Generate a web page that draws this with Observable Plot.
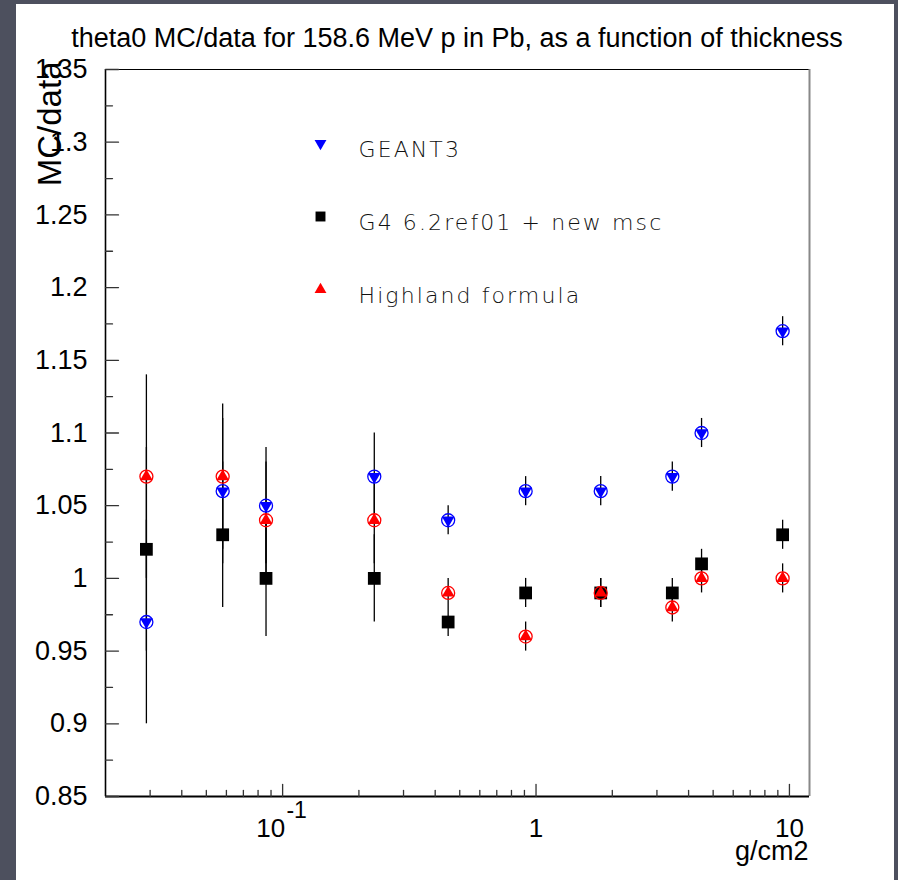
<!DOCTYPE html>
<html><head><meta charset="utf-8">
<script src="https://cdn.jsdelivr.net/npm/d3@7"></script>
<script src="https://cdn.jsdelivr.net/npm/@observablehq/plot@0.6"></script>
<style>
body{margin:0;background:#4d505e;width:898px;height:880px;overflow:hidden;position:relative;}
#panel{position:absolute;left:16px;top:4px;width:878px;height:876px;background:#fff;}
#title{position:absolute;left:0;top:19px;width:882px;text-align:center;font-family:"Liberation Sans",Arial,sans-serif;font-size:27px;line-height:30px;color:#000;}
#chart{position:absolute;left:0;top:56px;}
#chart g[font-family="DejaVu Sans"] text{letter-spacing:2.1px;}
</style></head><body>
<div id="panel"><div id="title">theta0 MC/data for 158.6 MeV p in Pb, as a function of thickness</div><div id="chart"></div></div>
<script>
const thickness = [0.029, 0.058, 0.086, 0.23, 0.45, 0.91, 1.8, 3.45, 4.5, 9.4];
const geant3   = [0.97, 1.06, 1.05, 1.07, 1.04, 1.06, 1.06, 1.07, 1.10, 1.17];
const g4       = [1.02, 1.03, 1.00, 1.00, 0.97, 0.99, 0.99, 0.99, 1.01, 1.03];
const highland = [1.07, 1.07, 1.04, 1.04, 0.99, 0.96, 0.99, 0.98, 1.00, 1.00];
const errors   = [0.07, 0.05, 0.04, 0.03, 0.01, 0.01, 0.01, 0.01, 0.01, 0.01];
const seriesNames = ["GEANT3", "G4 6.2ref01 + new msc", "Highland formula"];
const seriesColors = ["#0000ff", "#000000", "#ff0000"];
const yMajorTicks = [0.85, 0.9, 0.95, 1.0, 1.05, 1.1, 1.15, 1.2, 1.25, 1.3, 1.35];
const yMinorTicks = [0.875, 0.925, 0.975, 1.025, 1.075, 1.125, 1.175, 1.225, 1.275, 1.325];
const xMajorTicks = [0.1, 1, 10];
const xMinorTicks = [0.03, 0.04, 0.05, 0.06, 0.07, 0.08, 0.09, 0.2, 0.3, 0.4, 0.5, 0.6, 0.7, 0.8, 0.9, 2, 3, 4, 5, 6, 7, 8, 9];
const xDomain = [0.02, 12];
const yDomain = [0.85, 1.35];

const rows = (vals) => thickness.map((t, i) => ({x: t, y: vals[i], e: errors[i]}));
const dG3 = rows(geant3), dG4 = rows(g4), dHL = rows(highland);

const tickShape = {draw(context, l) { context.moveTo(0, 0); context.lineTo(0, -l); }};
const errRule = (d) => Plot.ruleX(d, {x: "x", y1: r => r.y - r.e, y2: r => r.y + r.e, stroke: "#000", strokeWidth: 1.3});

const legendMarks = [];
const legendDy = [74, 147, 220];
const legendSymbols = ["triangle", "square", "triangle"];
const legendRotate = [180, 0, 0];
const legendR = [4.4, 5.6, 4.4];
seriesNames.forEach((name, i) => {
  legendMarks.push(Plot.dot([name], {frameAnchor: "top-left", dx: 215, dy: legendDy[i], symbol: legendSymbols[i], rotate: legendRotate[i], r: legendR[i], fill: seriesColors[i], stroke: null}));
  legendMarks.push(Plot.text([name], {frameAnchor: "top-left", dx: 253, dy: legendDy[i] - 2, text: d => d, textAnchor: "start", fontSize: 22, fontFamily: "DejaVu Sans", fontWeight: 200, fill: "#111"}));
});

const chart = Plot.plot({
  width: 878,
  height: 820,
  marginLeft: 89,
  marginRight: 85,
  marginTop: 9,
  marginBottom: 84,
  style: {fontFamily: "'Liberation Sans', Arial, sans-serif", fontSize: "26px", background: "transparent", overflow: "visible", color: "#000"},
  x: {type: "log", domain: xDomain, axis: null},
  y: {domain: yDomain, axis: null},
  marks: [
    // frame
    Plot.ruleY([yDomain[1]], {stroke: "#000", strokeWidth: 1.2}),
    Plot.ruleX([xDomain[1]], {stroke: "#888", strokeWidth: 2}),
    Plot.ruleX([xDomain[0]], {stroke: "#000", strokeWidth: 1.6}),
    Plot.ruleY([yDomain[0]], {stroke: "#000", strokeWidth: 2}),
    // y ticks
    Plot.vector(yMajorTicks, {y: d => d, frameAnchor: "left", rotate: 90, length: 13, anchor: "start", shape: tickShape, stroke: "#333", strokeWidth: 1.3}),
    Plot.vector(yMinorTicks, {y: d => d, frameAnchor: "left", rotate: 90, length: 7, anchor: "start", shape: tickShape, stroke: "#333", strokeWidth: 1.3}),
    Plot.axisY({ticks: yMajorTicks, tickSize: 0, tickPadding: 18, fontSize: 27, label: null, tickFormat: d => String(+d.toFixed(2))}),
    // x ticks
    Plot.vector(xMajorTicks, {x: d => d, frameAnchor: "bottom", rotate: 0, length: 12, anchor: "start", shape: tickShape, stroke: "#333", strokeWidth: 1.3}),
    Plot.vector(xMinorTicks, {x: d => d, frameAnchor: "bottom", rotate: 0, length: 6, anchor: "start", shape: tickShape, stroke: "#333", strokeWidth: 1.3}),
    // x tick labels
    Plot.text([0.1], {x: d => d, text: d => "10", frameAnchor: "bottom", dy: 40, dx: -12, fontSize: 26}),
    Plot.text([0.1], {x: d => d, text: d => "-1", frameAnchor: "bottom", dy: 21, dx: 14, fontSize: 23}),
    Plot.text([1], {x: d => d, text: d => "1", frameAnchor: "bottom", dy: 40, fontSize: 26}),
    Plot.text([10], {x: d => d, text: d => "10", frameAnchor: "bottom", dy: 40, fontSize: 26}),
    Plot.text(["g/cm2"], {text: d => d, frameAnchor: "bottom-right", dy: 63, dx: -1, textAnchor: "end", fontSize: 27}),
    Plot.text(["MC/data"], {text: d => d, frameAnchor: "top-left", rotate: -90, textAnchor: "end", dx: -68, dy: -8, fontSize: 33}),
    // error bars
    errRule(dG4), errRule(dHL), errRule(dG3),
    // markers
    Plot.dot(dG4, {x: "x", y: "y", symbol: "square", r: 7.2, fill: seriesColors[1], stroke: null}),
    Plot.dot(dHL, {x: "x", y: "y", r: 6.5, fill: "none", stroke: seriesColors[2], strokeWidth: 1.3}),
    Plot.dot(dHL, {x: "x", y: "y", symbol: "triangle", r: 4.7, fill: seriesColors[2], stroke: null}),
    Plot.dot(dG3, {x: "x", y: "y", r: 6.5, fill: "none", stroke: seriesColors[0], strokeWidth: 1.3}),
    Plot.dot(dG3, {x: "x", y: "y", symbol: "triangle", rotate: 180, r: 4.7, fill: seriesColors[0], stroke: null}),
    ...legendMarks
  ]
});
document.getElementById("chart").appendChild(chart);
</script>
</body></html>
